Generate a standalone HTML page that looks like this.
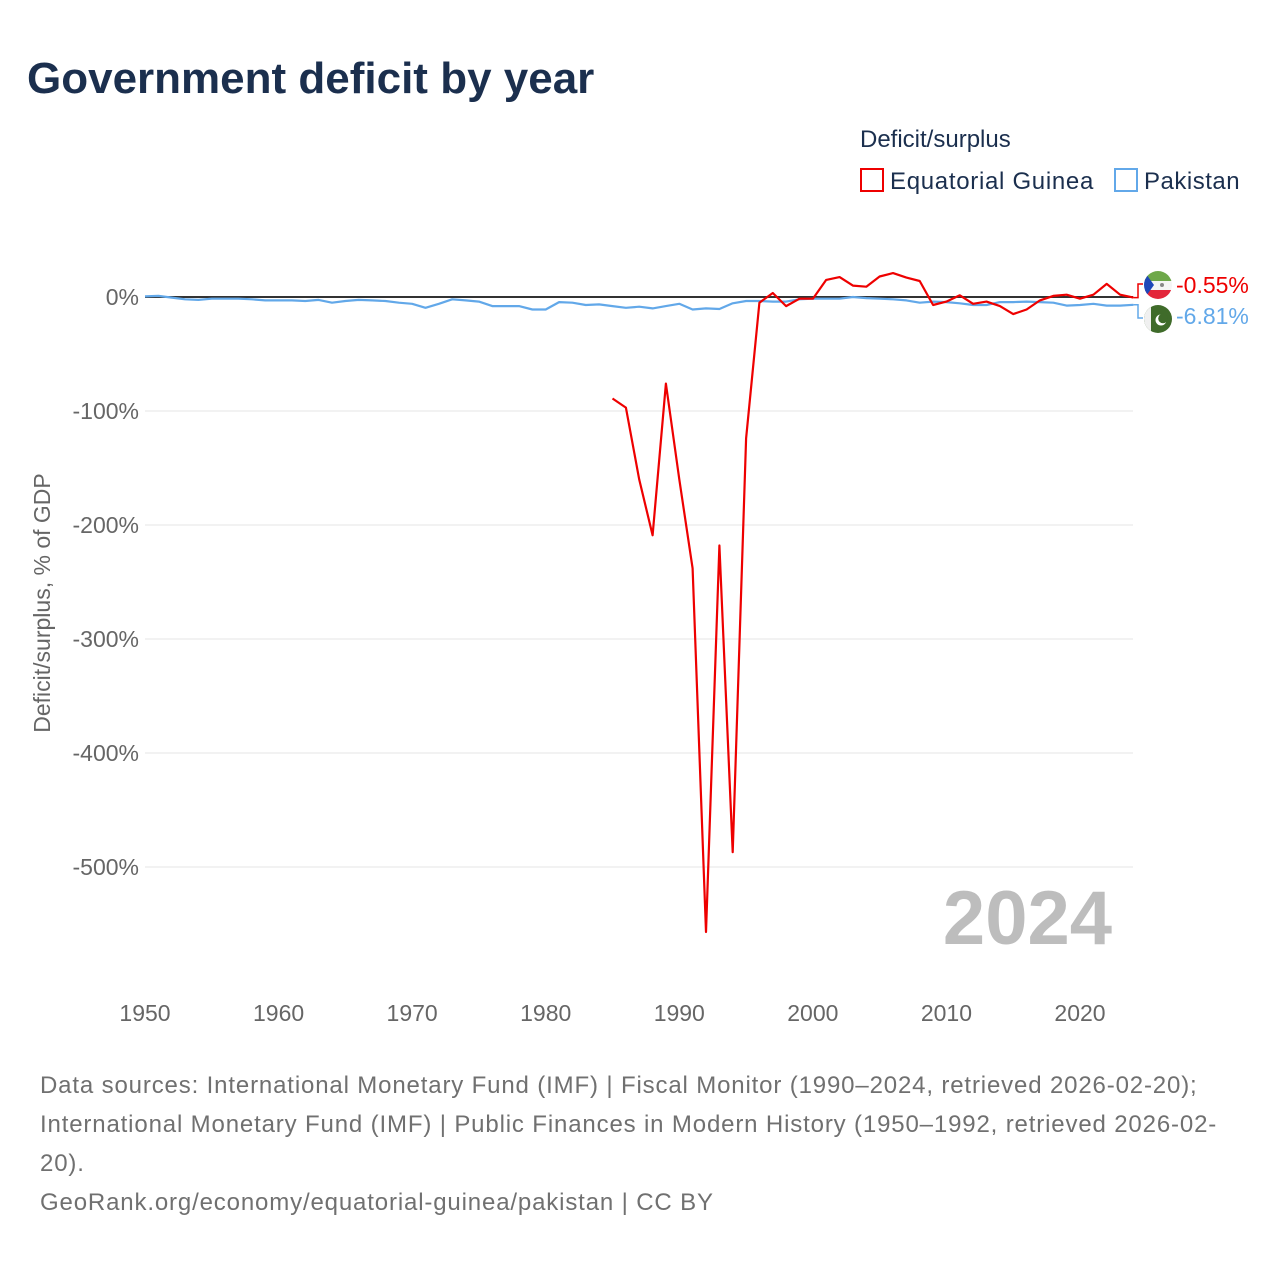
<!DOCTYPE html>
<html><head><meta charset="utf-8">
<style>
body{margin:0;background:#fff;font-family:"Liberation Sans",sans-serif;}
#wrap{position:relative;width:1280px;height:1280px;overflow:hidden;}
</style></head>
<body>
<div id="wrap">
<svg id="svg" width="1280" height="1280" xmlns="http://www.w3.org/2000/svg">
<text x="27" y="93" font-size="44" font-weight="bold" fill="#1b2f4e">Government deficit by year</text>
<text x="860" y="147" font-size="24" fill="#1b2f4e">Deficit/surplus</text>
<g>
<rect x="861" y="169" width="22" height="22" fill="none" stroke="#ee0000" stroke-width="2"/>
<text x="890" y="189" font-size="24" fill="#1b2f4e" letter-spacing="0.7">Equatorial Guinea</text></g>
<g>
<rect x="1115" y="169" width="22" height="22" fill="none" stroke="#62a8e9" stroke-width="2"/>
<text x="1144" y="189" font-size="24" fill="#1b2f4e" letter-spacing="0.5">Pakistan</text></g>
<text transform="translate(50,603) rotate(-90)" text-anchor="middle" font-size="23" fill="#666">Deficit/surplus, % of GDP</text>
<g id="grid"></g><g id="ylab"></g><g id="xlab"></g>
<text x="1112" y="944" text-anchor="end" font-size="76" font-weight="bold" fill="#bdbdbd">2024</text>
<g id="lines"></g>
<g id="ends"></g>
<g font-size="24" fill="#707070" letter-spacing="0.85">
<text x="40" y="1093">Data sources: International Monetary Fund (IMF) | Fiscal Monitor (1990–2024, retrieved 2026-02-20);</text>
<text x="40" y="1132">International Monetary Fund (IMF) | Public Finances in Modern History (1950–1992, retrieved 2026-02-</text>
<text x="40" y="1171">20).</text>
<text x="40" y="1210">GeoRank.org/economy/equatorial-guinea/pakistan | CC BY</text>
</g>
</svg></div>
<script>
const years=[];for(let y=1950;y<=2024;y++)years.push(y);
const pakistan=[0.5,1,-0.5,-2,-2.5,-1.5,-1.5,-1.5,-2,-3,-3,-3,-3.5,-2.5,-5,-3.5,-2.5,-3,-3.5,-5,-6,-9.5,-6,-2,-3,-4,-8,-8,-8,-11,-11,-4.5,-5,-7,-6.5,-8,-9.5,-8.5,-10,-8,-6,-11,-10,-10.5,-5.5,-3.5,-3.5,-4,-4,-2,-1.5,-1.5,-1.5,0,-1,-1.5,-2,-3,-5,-4,-4.5,-5.5,-7,-7,-4.5,-4.5,-4,-4.5,-5,-7.5,-7,-6,-7.5,-7.5,-6.81];
const eqgYears=[];for(let y=1985;y<=2024;y++)eqgYears.push(y);
const eqGuinea=[-89,-97,-160,-209,-76,-160,-238,-557,-218,-487,-124,-5,3.5,-8,-1.5,-1.5,15,17.5,10,9,18,21,17,14,-7,-4,1.5,-6,-4,-8,-15,-11,-3,1,2,-1.5,2,11.5,2,-0.55];
const yTicks=[0,-100,-200,-300,-400,-500];
const xTicks=[1950,1960,1970,1980,1990,2000,2010,2020];
const X=y=>145+(y-1950)*(935/70);
const Y=v=>297-v*1.14;
const NS="http://www.w3.org/2000/svg";
function mk(tag,attrs,parent,txt){const e=document.createElementNS(NS,tag);for(const k in attrs)e.setAttribute(k,attrs[k]);if(txt!==undefined)e.textContent=txt;document.getElementById(parent).appendChild(e);return e;}
yTicks.forEach(t=>{
 const l=mk('line',{x1:145,x2:1133,y1:Y(t),y2:Y(t),stroke:t===0?'#333':'#e6e6e6','stroke-width':t===0?2:1},'grid');
 
 
 const tx=mk('text',{x:139,y:Y(t)+8,'text-anchor':'end','font-size':23,fill:'#666'},'ylab',t+'%');
 
 
});
xTicks.forEach(t=>{
 const tx=mk('text',{x:X(t),y:1021,'text-anchor':'middle','font-size':23,fill:'#666'},'xlab',String(t));
 
 
});
function path(xs,vs,color,name){
 const d=xs.map((y,i)=>(i?'L':'M')+X(y).toFixed(1)+','+Y(vs[i]).toFixed(1)).join(' ');
 const p=mk('path',{d:d,fill:'none',stroke:color,'stroke-width':2.2,'stroke-linejoin':'round'},'lines');
 
 
}
path(years,pakistan,'#62a8e9','pakistan-line');
path(eqgYears,eqGuinea,'#ee0000','equatorial-guinea-line');
const ex=X(2024);
const e1=mk('path',{d:`M${ex},${Y(eqGuinea[eqGuinea.length-1])} H1138 V284 H1143`,fill:'none',stroke:'#ee0000','stroke-width':1.5},'ends');

const e2=mk('path',{d:`M${ex},${Y(pakistan[pakistan.length-1])} H1138 V318 H1143`,fill:'none',stroke:'#62a8e9','stroke-width':1.5},'ends');

const f1=mk('g',{},'ends');
f1.innerHTML='<clipPath id="c1"><circle cx="1158" cy="285" r="14"/></clipPath><g clip-path="url(#c1)"><rect x="1144" y="271" width="28" height="10" fill="#6ea84a"/><rect x="1144" y="281" width="28" height="9" fill="#f5f5f5"/><rect x="1144" y="290" width="28" height="10" fill="#e3263a"/><polygon points="1144,271 1154,285 1144,299" fill="#1f47b8"/><circle cx="1162" cy="285" r="2" fill="#888"/></g>';
const f2=mk('g',{},'ends');
f2.innerHTML='<clipPath id="c2"><circle cx="1158" cy="319" r="14"/></clipPath><g clip-path="url(#c2)"><rect x="1144" y="305" width="28" height="28" fill="#3f6b2a"/><rect x="1144" y="305" width="7" height="28" fill="#f0f0f0"/><circle cx="1161" cy="320" r="5.5" fill="#fff"/><circle cx="1163" cy="318.5" r="4.8" fill="#3f6b2a"/></g>';
const l1=mk('text',{x:1176,y:293,'font-size':23,fill:'#ee0000'},'ends','-0.55%');

const l2=mk('text',{x:1176,y:324,'font-size':23,fill:'#62a8e9'},'ends','-6.81%');

</script>
</body></html>
